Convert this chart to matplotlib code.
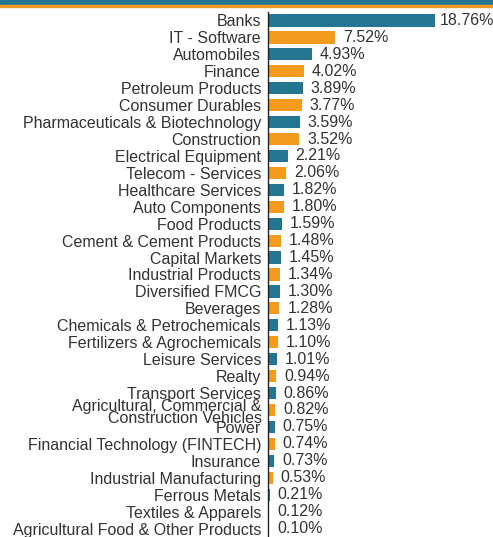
import matplotlib
matplotlib.use("Agg")
import matplotlib.pyplot as plt
from matplotlib.patches import Rectangle

categories = ["Banks", "IT - Software", "Automobiles", "Finance", "Petroleum Products",
              "Consumer Durables", "Pharmaceuticals & Biotechnology", "Construction",
              "Electrical Equipment", "Telecom - Services", "Healthcare Services",
              "Auto Components", "Food Products", "Cement & Cement Products",
              "Capital Markets", "Industrial Products", "Diversified FMCG", "Beverages",
              "Chemicals & Petrochemicals", "Fertilizers & Agrochemicals", "Leisure Services",
              "Realty", "Transport Services",
              "Agricultural, Commercial &\nConstruction Vehicles", "Power",
              "Financial Technology (FINTECH)", "Insurance", "Industrial Manufacturing",
              "Ferrous Metals", "Textiles & Apparels", "Agricultural Food & Other Products"]
values = [18.76, 7.52, 4.93, 4.02, 3.89, 3.77, 3.59, 3.52, 2.21, 2.06, 1.82, 1.80, 1.59,
          1.48, 1.45, 1.34, 1.30, 1.28, 1.13, 1.10, 1.01, 0.94, 0.86, 0.82, 0.75, 0.74,
          0.73, 0.53, 0.21, 0.12, 0.10]

teal = "#237592"
orange = "#f49a1f"
txt = "#333333"

plt.rcParams['font.family'] = ['Liberation Sans', 'DejaVu Sans']
W, H = 493, 537
fig = plt.figure(figsize=(W/100, H/100), dpi=100)
left, right, top, bottom = 268, 493, 12, 537
ax = fig.add_axes([left/W, 1 - bottom/H, (right-left)/W, (bottom-top)/H])

n = len(categories)
colors = [teal if i % 2 == 0 else orange for i in range(n)]
y = list(range(n))
ax.barh(y, values, height=0.72, color=colors, left=0)
ax.set_ylim(n - 0.5, -0.5)
pxu = 8.9
ax.set_xlim(0, (right - left) / pxu)
ax.set_yticks(y)
ax.set_yticklabels([c if "\n" not in c else "" for c in categories],
                   fontsize=11.5, color=txt)
ax.tick_params(axis='y', length=0, pad=5)
for i, c in enumerate(categories):
    if "\n" in c:
        ax.annotate(c, xy=(0, i), xycoords=ax.get_yaxis_transform(),
                    xytext=(-6.5, -2.5), textcoords="offset pixels",
                    ha="right", va="center", fontsize=11.5, color=txt,
                    linespacing=0.78, multialignment="right")
ax.set_xticks([])
for s in ["top", "right", "bottom"]:
    ax.spines[s].set_visible(False)
ax.spines["left"].set_color("#222222")
ax.spines["left"].set_linewidth(1.0)

labels = []
for i, v in enumerate(values):
    t = ax.text(v + 8/pxu, i, f"{v:.2f}%", va="center", ha="left", fontsize=11.5,
                color=txt, clip_on=False)
    labels.append((t, v))

fig.canvas.draw()
r = fig.canvas.get_renderer()
for t, v in labels:
    bb = t.get_window_extent(r)
    if bb.x1 > W - 2:
        t.set_x(v + 5/pxu)

# top band
fig.patches.append(Rectangle((0, 1 - 5/H), 1, 5/H, transform=fig.transFigure, color=teal, zorder=5))
fig.patches.append(Rectangle((0, 1 - 7/H), 1, 2/H, transform=fig.transFigure, color=orange, zorder=5))

fig.savefig("out.png", dpi=100)
